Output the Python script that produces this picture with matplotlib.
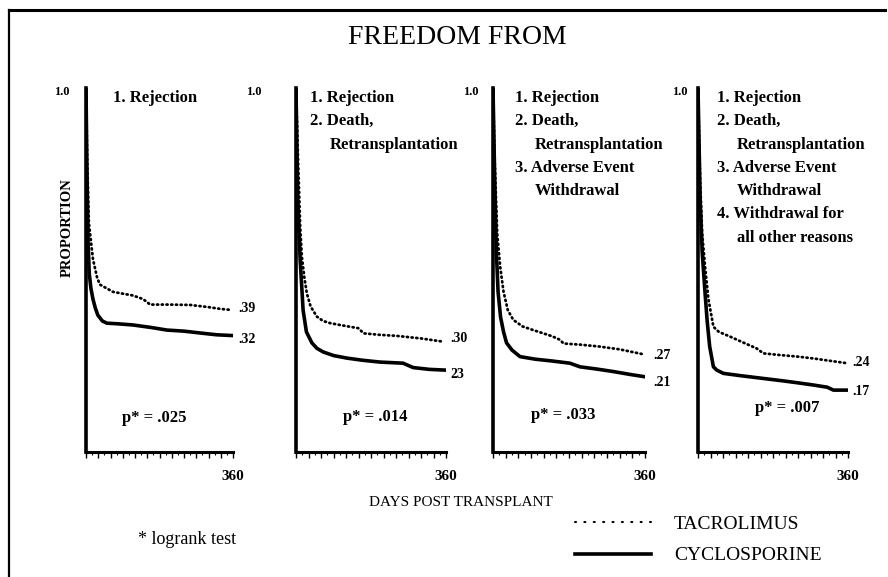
import numpy as np
import matplotlib.pyplot as plt
from matplotlib.lines import Line2D

plt.rcParams['font.family'] = 'Liberation Serif'

W, H = 888, 577

# Kaplan-Meier style curves (days, proportion)
tac_days_1 = [0, 3, 7, 12, 17, 27, 34, 50, 66, 90, 115, 140, 157, 200, 255, 300, 330, 358]
tac_surv_1 = [1.0, 0.80, 0.63, 0.58, 0.53, 0.48, 0.46, 0.45, 0.44, 0.435, 0.43, 0.42, 0.405, 0.405, 0.404, 0.398, 0.393, 0.39]
cyc_days_1 = [0, 2, 5, 8, 12, 17, 23, 29, 40, 51, 80, 115, 160, 198, 240, 279, 320, 357]
cyc_surv_1 = [1.0, 0.80, 0.58, 0.49, 0.45, 0.42, 0.395, 0.376, 0.36, 0.354, 0.352, 0.349, 0.342, 0.335, 0.332, 0.327, 0.322, 0.32]

tac_days_2 = [0, 5, 10, 14, 20, 26, 35, 50, 65, 82, 110, 130, 150, 162, 200, 242, 300, 354]
tac_surv_2 = [1.0, 0.80, 0.62, 0.537, 0.48, 0.436, 0.40, 0.372, 0.36, 0.354, 0.348, 0.344, 0.34, 0.326, 0.322, 0.319, 0.312, 0.303]
cyc_days_2 = [0, 4, 10, 14, 17, 25, 38, 50, 65, 90, 122, 160, 202, 257, 281, 320, 358]
cyc_surv_2 = [1.0, 0.70, 0.527, 0.45, 0.39, 0.33, 0.30, 0.285, 0.275, 0.265, 0.258, 0.252, 0.247, 0.244, 0.232, 0.227, 0.225]

tac_days_3 = [0, 4, 10, 17, 25, 35, 48, 70, 95, 119, 140, 159, 167, 206, 250, 300, 358]
tac_surv_3 = [1.0, 0.80, 0.60, 0.509, 0.44, 0.39, 0.363, 0.345, 0.335, 0.326, 0.318, 0.308, 0.298, 0.295, 0.29, 0.282, 0.268]
cyc_days_3 = [0, 4, 8, 12, 18, 25, 32, 45, 64, 100, 140, 182, 206, 245, 285, 325, 358]
cyc_surv_3 = [1.0, 0.75, 0.55, 0.44, 0.37, 0.33, 0.30, 0.28, 0.262, 0.255, 0.25, 0.244, 0.234, 0.228, 0.221, 0.213, 0.207]

tac_days_4 = [0, 5, 10, 17, 25, 37, 50, 77, 110, 140, 157, 200, 240, 277, 320, 357]
tac_surv_4 = [1.0, 0.75, 0.60, 0.509, 0.42, 0.344, 0.33, 0.317, 0.30, 0.285, 0.271, 0.266, 0.262, 0.257, 0.25, 0.244]
cyc_days_4 = [0, 5, 10, 17, 22, 28, 37, 45, 61, 100, 157, 200, 240, 277, 310, 325, 358]
cyc_surv_4 = [1.0, 0.70, 0.55, 0.436, 0.36, 0.29, 0.234, 0.225, 0.216, 0.21, 0.202, 0.196, 0.19, 0.184, 0.178, 0.17, 0.17]

tac_end_labels = ['.39', '.30', '.27', '.24']
tac_end_y = [0.393, 0.313, 0.266, 0.247]
cyc_end_labels = ['.32', '23', '.21', '.17']
cyc_end_y = [0.31, 0.212, 0.19, 0.165]

p_values = ['p* = .025', 'p* = .014', 'p* = .033', 'p* = .007']

notes = [
    ['1. Rejection'],
    ['1. Rejection', '2. Death,', 'Retransplantation'],
    ['1. Rejection', '2. Death,', 'Retransplantation', '3. Adverse Event', 'Withdrawal'],
    ['1. Rejection', '2. Death,', 'Retransplantation', '3. Adverse Event', 'Withdrawal',
     '4. Withdrawal for', 'all other reasons'],
]

tac_days = [tac_days_1, tac_days_2, tac_days_3, tac_days_4]
tac_surv = [tac_surv_1, tac_surv_2, tac_surv_3, tac_surv_4]
cyc_days = [cyc_days_1, cyc_days_2, cyc_days_3, cyc_days_4]
cyc_surv = [cyc_surv_1, cyc_surv_2, cyc_surv_3, cyc_surv_4]

# layout in pixels
ax_left = [86, 296, 493, 698]
ax_right = [233, 446, 645, 848]
ax_top, ax_bot = 88, 452
one_x = [62, 254, 471, 680]
note_x = [113, 310, 515, 717]
p_xy = [(154, 418), (375, 417), (563, 415), (787, 408)]
end_dx = [5, 4, 8, 4]


def fx(px):
    return px / W


def fy(py):
    return 1 - py / H


fig = plt.figure(figsize=(W / 100, H / 100), dpi=100)

tac_style = dict(color='black', lw=2.0, ls=(0, (0.4, 1.3)), dash_capstyle='round')
cyc_style = dict(color='black', lw=2.6, solid_joinstyle='round')

for i in range(4):
    ax = fig.add_axes([fx(ax_left[i]), fy(ax_bot), fx(ax_right[i] - ax_left[i]), (ax_bot - ax_top) / H])
    ax.patch.set_alpha(0)
    ax.plot(cyc_days[i], cyc_surv[i], **cyc_style)
    ax.plot(tac_days[i], tac_surv[i], **tac_style)
    ax.set_xlim(0, 360)
    ax.set_ylim(0, 1)
    for s in ['top', 'right']:
        ax.spines[s].set_visible(False)
    ax.spines['left'].set_linewidth(2.6)
    ax.spines['bottom'].set_linewidth(2.2)
    ax.set_yticks([])
    ax.set_xticks(np.arange(0, 361, 30))
    ax.set_xticks(np.arange(0, 361, 15), minor=True)
    ax.set_xticklabels([''] * 12 + ['360'], fontweight='bold', fontsize=11)
    ax.tick_params(axis='x', which='major', length=4, width=1.0, direction='out', pad=9)
    ax.tick_params(axis='x', which='minor', length=2.5, width=0.8, direction='out')

    # end values
    ex = ax_right[i] + end_dx[i]
    fig.text(fx(ex), fy(ax_bot - tac_end_y[i] * (ax_bot - ax_top)), tac_end_labels[i],
             fontsize=10, fontweight='bold', va='center', ha='left')
    fig.text(fx(ex), fy(ax_bot - cyc_end_y[i] * (ax_bot - ax_top)), cyc_end_labels[i],
             fontsize=10, fontweight='bold', va='center', ha='left')

    fig.text(fx(one_x[i]), fy(92), '1.0', fontsize=9, fontweight='bold', ha='center', va='center')
    fig.text(fx(p_xy[i][0]), fy(p_xy[i][1]), p_values[i], fontsize=12, fontweight='bold',
             ha='center', va='center')

    for k, line in enumerate(notes[i]):
        x0 = note_x[i] if line[0].isdigit() else note_x[i] + 20
        fig.text(fx(x0), fy(98 + 23.3 * k), line, fontsize=12, fontweight='bold',
                 ha='left', va='center')

fig.text(fx(457), fy(37), 'FREEDOM FROM', fontsize=20, ha='center', va='center')
fig.text(fx(67), fy(228), 'PROPORTION', fontsize=10.5, fontweight='bold', rotation=90,
         ha='center', va='center')
fig.text(fx(461), fy(502), 'DAYS POST TRANSPLANT', fontsize=11, ha='center', va='center')
fig.text(fx(138), fy(540), '* logrank test', fontsize=13, ha='left', va='center')

# legend
h_tac = Line2D([], [], color='black', lw=1.5, ls=(0, (0.5, 4)), dash_capstyle='round')
h_cyc = Line2D([], [], color='black', lw=2.6)
fig.legend([h_tac, h_cyc], ['TACROLIMUS', 'CYCLOSPORINE'], loc='center left',
           bbox_to_anchor=(fx(575), fy(540)), frameon=False, fontsize=14,
           handlelength=3.9, handletextpad=1.2, labelspacing=0.7, borderpad=0, borderaxespad=0)

# page frame (top and left edges of the scan)
fig.add_artist(Line2D([fx(9), fx(885)], [fy(10), fy(10)], color='black', lw=2.2))
fig.add_artist(Line2D([fx(9), fx(9)], [fy(10), 0], color='black', lw=1.6))

fig.savefig('out.png', dpi=100)
